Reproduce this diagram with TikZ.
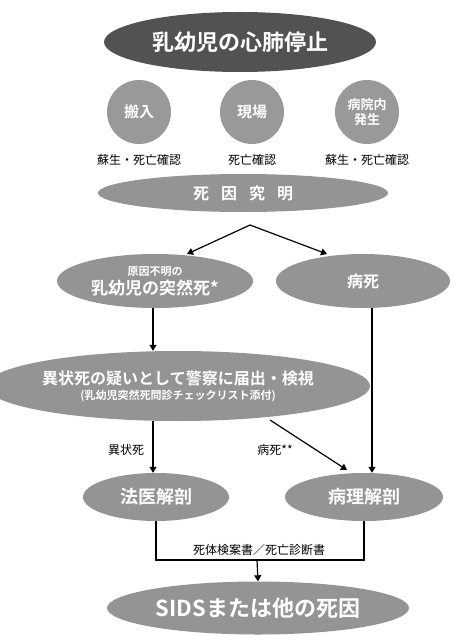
\documentclass[tikz,border=0pt]{standalone}
\usepackage{fontspec}
\setmainfont{Noto Sans CJK JP}[BoldFont={* Bold}]
\usetikzlibrary{shapes.geometric,arrows.meta}
\begin{document}
\begin{tikzpicture}[x=1pt,y=-1pt,
  blob/.style={ellipse,fill=black!42,inner sep=0pt,text=white,font=\bfseries,align=center},
  darkblob/.style={blob,fill=black!68},
  circ/.style={circle,fill=black!40,inner sep=0pt,minimum size=64pt,text=white,font=\bfseries,align=center},
  lbl/.style={font=\fontsize{12}{13}\selectfont,inner sep=1pt},
  conn/.style={line width=1.2pt,-{Triangle[width=7pt,length=6pt]}},
  plain/.style={line width=1.2pt}]
\useasboundingbox (0,0) rectangle (469,636);
\node[darkblob,minimum width=272pt,minimum height=60pt,font=\bfseries\fontsize{22}{23}\selectfont] (top) at (240,42) {乳幼児の心肺停止};
\node[circ,font=\bfseries\fontsize{15}{16}\selectfont] (c1) at (139,112) {搬入};
\node[circ,font=\bfseries\fontsize{15}{16}\selectfont] (c2) at (252,112) {現場};
\node[circ,font=\bfseries\fontsize{13}{15}\selectfont] (c3) at (367,112) {病院内\\発生};
\node[lbl] (l1) at (139,160) {蘇生・死亡確認};
\node[lbl] (l2) at (252,160) {死亡確認};
\node[lbl] (l3) at (367,160) {蘇生・死亡確認};
\node[blob,minimum width=290pt,minimum height=38pt,font=\bfseries\fontsize{16}{17}\selectfont] (cause) at (243,193) {死\hspace{12pt}因\hspace{12pt}究\hspace{12pt}明};
\coordinate (apex) at (250,225);
\node[blob,minimum width=196pt,minimum height=54pt,font=\bfseries\fontsize{17}{19}\selectfont] (sud) at (155,281) {{\fontsize{11}{12}\selectfont 原因不明の}\\{\fontsize{17}{19}\selectfont 乳幼児の突然死*}};
\node[blob,minimum width=174pt,minimum height=54pt,font=\bfseries\fontsize{16}{17}\selectfont] (sick) at (363,281) {病死};
\node[blob,minimum width=340pt,minimum height=70pt,font=\bfseries\fontsize{11}{15}\selectfont] (abn) at (178,386) {{\fontsize{16}{17}\selectfont 異状死の疑いとして警察に届出・検視}\\{\fontsize{11}{12}\selectfont (乳幼児突然死問診チェックリスト添付)}};
\node[blob,minimum width=146pt,minimum height=48pt,font=\bfseries\fontsize{18}{19}\selectfont] (houi) at (156,497) {法医解剖};
\node[blob,minimum width=158pt,minimum height=48pt,font=\bfseries\fontsize{18}{19}\selectfont] (byouri) at (364,497) {病理解剖};
\node[blob,minimum width=302pt,minimum height=53pt,font=\bfseries\fontsize{22}{23}\selectfont] (sids) at (258,608) {SIDSまたは他の死因};
\coordinate (t1) at (187,254);
\coordinate (t2) at (327,254);
\draw[conn] (apex) -- (t1);
\draw[conn] (apex) -- (t2);
\draw[conn] (sud.south -| 153,0) -- (abn.north -| 153,0);
\draw[conn] (sick.south -| 372,0) -- (byouri.north -| 372,0);
\draw[conn] (abn.south -| 153,0) -- (houi.north -| 153,0);
\node[lbl] (lab1) at (126,450) {異状死};
\coordinate (d1) at (270,420);
\coordinate (d2) at (347,470);
\draw[conn] (d1) -- (d2);
\node[lbl] (lab2) at (275,450) {病死**};
\coordinate (bend) at (257,560);
\draw[plain] (houi.south) |- (bend) -| (byouri.south);
\node[lbl,anchor=south] (doc) at (259,557) {死体検案書／死亡診断書};
\draw[conn] (bend) -- (sids.north);
\end{tikzpicture}
\end{document}
